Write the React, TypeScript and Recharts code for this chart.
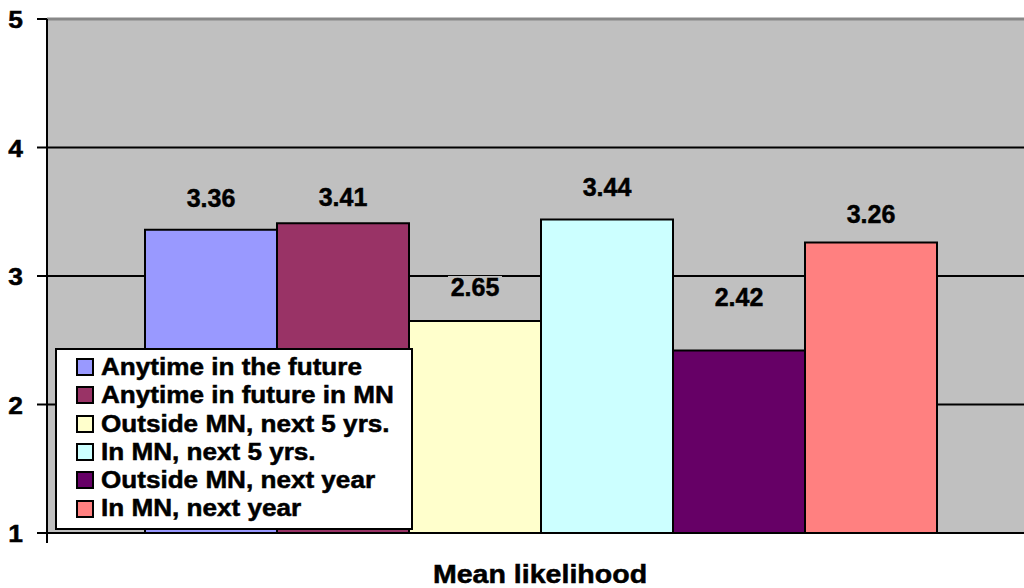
import { BarChart, Bar, XAxis, YAxis, CartesianGrid, Legend, LabelList, ReferenceLine } from "recharts";

const CATEGORY = "Mean likelihood";

const SERIES_NAMES = [
  "Anytime in the future",
  "Anytime in future in MN",
  "Outside MN, next 5 yrs.",
  "In MN, next 5 yrs.",
  "Outside MN, next year",
  "In MN, next year",
];

const SERIES_VALUES = [3.36, 3.41, 2.65, 3.44, 2.42, 3.26];

const SERIES_COLORS = ["#9999FF", "#993366", "#FFFFCC", "#CCFFFF", "#660066", "#FF8080"];

const Y_TICKS = [1, 2, 3, 4, 5];

// one category row, one key per series
const chartData = [
  SERIES_NAMES.reduce<Record<string, string | number>>(
    (row, _name, i) => {
      row[`s${i}`] = SERIES_VALUES[i];
      return row;
    },
    { name: CATEGORY }
  ),
];

const FONT = '"Liberation Sans", Arial, sans-serif';
const PLOT_LEFT = 47;
const PLOT_BG = "#C0C0C0";

// how far above each bar top its value label sits
const LABEL_LIFT = [32, 26, 34, 32, 54, 29];

// shared look for the bold svg text
const boldText = {
  fontFamily: FONT,
  fontWeight: "bold",
  fill: "#000",
  stroke: "#000",
  strokeWidth: 0.5,
};

function YTick({ x, y, payload }: any) {
  return (
    <text transform={`translate(${x},${y + 9}) scale(1.1,1)`} textAnchor="end" fontSize={24} {...boldText}>
      {payload.value}
    </text>
  );
}

function XTick({ x, y, payload }: any) {
  return (
    <g>
      <line x1={PLOT_LEFT} x2={PLOT_LEFT} y1={y} y2={y + 10} stroke="#000" strokeWidth={2} />
      <text transform={`translate(${x},${y + 50}) scale(1.12,1)`} textAnchor="middle" fontSize={25.5} {...boldText}>
        {payload.value}
      </text>
    </g>
  );
}

function makeValueLabel(lift: number) {
  return function ValueLabel({ x, y, width, value }: any) {
    const cx = x + width / 2;
    const cy = y - lift;
    return (
      <g>
        <rect x={cx - 27} y={cy - 11} width={54} height={22} fill={PLOT_BG} />
        <text transform={`translate(${cx},${cy + 9})`} textAnchor="middle" fontSize={25} {...boldText}>
          {Number(value).toFixed(2)}
        </text>
      </g>
    );
  };
}

function LegendBox() {
  return (
    <div
      style={{
        boxSizing: "border-box",
        width: 358,
        height: 182,
        background: "#fff",
        border: "2px solid #000",
        padding: "3px 0 0 19px",
        fontFamily: FONT,
        fontWeight: "bold",
        fontSize: 23.3,
        lineHeight: "28.3px",
        color: "#000",
        textAlign: "left",
        WebkitTextStroke: "0.5px #000",
      }}
    >
      {SERIES_NAMES.map((name, i) => (
        <div key={name} style={{ display: "flex", alignItems: "center", height: 28.3, whiteSpace: "nowrap" }}>
          <span
            style={{
              boxSizing: "border-box",
              width: 18,
              height: 18,
              background: SERIES_COLORS[i],
              border: "2px solid #000",
              marginRight: 7,
              flex: "none",
            }}
          />
          <span style={{ display: "inline-block", transform: "scaleX(1.12)", transformOrigin: "left center" }}>
            {name}
          </span>
        </div>
      ))}
    </div>
  );
}

export default function App() {
  return (
    <div style={{ position: "absolute", left: 0, top: 0, width: 1024, height: 588, overflow: "hidden", background: "#fff" }}>
      <BarChart
        width={1033}
        height={588}
        data={chartData}
        margin={{ top: 19, right: 0, bottom: 0, left: 0 }}
        barCategoryGap={98}
        barGap={0}
      >
        <CartesianGrid vertical={false} stroke="#000" strokeWidth={2} fill={PLOT_BG} fillOpacity={1} />
        <ReferenceLine y={5} stroke="#888" strokeWidth={3} />
        <XAxis
          dataKey="name"
          height={55}
          axisLine={{ stroke: "#000", strokeWidth: 2 }}
          tickLine={false}
          tickSize={0}
          tickMargin={0}
          tick={<XTick />}
        />
        <YAxis
          type="number"
          domain={[1, 5]}
          ticks={Y_TICKS}
          width={PLOT_LEFT}
          axisLine={{ stroke: "#000", strokeWidth: 2 }}
          tickLine={{ stroke: "#000", strokeWidth: 2 }}
          tickSize={10}
          tickMargin={14}
          tick={<YTick />}
          allowDataOverflow
        />
        {SERIES_NAMES.map((name, i) => (
          <Bar
            key={name}
            dataKey={`s${i}`}
            name={name}
            fill={SERIES_COLORS[i]}
            stroke="#000"
            strokeWidth={2}
            isAnimationActive={false}
          >
            <LabelList dataKey={`s${i}`} content={makeValueLabel(LABEL_LIFT[i])} />
          </Bar>
        ))}
        <Legend
          layout="vertical"
          align="center"
          verticalAlign="middle"
          content={<LegendBox />}
          wrapperStyle={{ position: "absolute", left: 55, top: 348, width: 358, height: 182 }}
        />
      </BarChart>
    </div>
  );
}
